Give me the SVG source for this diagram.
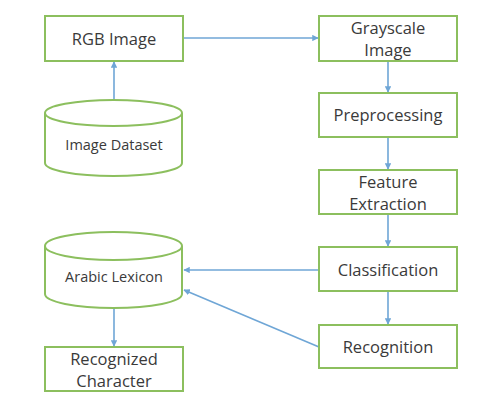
<svg xmlns="http://www.w3.org/2000/svg" width="485" height="398" viewBox="0 0 485 398">
<defs>
<style>
.box{fill:#fff;stroke:#8cbf5e;stroke-width:2}
.t{font-family:"Open Sans","Liberation Sans",sans-serif;fill:#3a3a3a;text-anchor:middle}
.big{font-size:16.5px}
.sm{font-size:14.5px}
.c{stroke:#6fa6d6;stroke-width:1.6;fill:none;marker-end:url(#ah)}
</style>
<marker id="ah" viewBox="0 0 10 10" refX="9" refY="5" markerWidth="4" markerHeight="4" orient="auto"><path d="M0,0 L10,5 L0,10 z" fill="#6fa6d6"/></marker>
</defs>
<rect width="485" height="398" fill="#fff"/>
<g id="connectors">
<line class="c" x1="183" y1="38" x2="318" y2="38"/>
<line class="c" x1="114" y1="99" x2="114" y2="62"/>
<line class="c" x1="388" y1="61" x2="388" y2="92"/>
<line class="c" x1="388" y1="137" x2="388" y2="169"/>
<line class="c" x1="388" y1="214" x2="388" y2="246"/>
<line class="c" x1="388" y1="291" x2="388" y2="324"/>
<line class="c" x1="319" y1="270" x2="184" y2="270"/>
<line class="c" x1="319" y1="347" x2="184" y2="290"/>
<line class="c" x1="114" y1="308" x2="114" y2="346"/>
</g>
<g id="rgb"><rect class="box" x="45" y="16" width="138" height="45"/><text class="t big" x="114" y="45">RGB Image</text></g>
<g id="gray"><rect class="box" x="319" y="16" width="138" height="45"/><text class="t big" x="388" y="34">Grayscale</text><text class="t big" x="388" y="56">Image</text></g>
<g id="dataset"><path class="box" d="M45,113 A68.5,13 0 0 1 182,113 L182,163 A68.5,13 0 0 1 45,163 Z"/><path class="box" d="M45,113 A68.5,13 0 0 0 182,113" fill="none"/><text class="t sm" x="114" y="150">Image Dataset</text></g>
<g id="prep"><rect class="box" x="319" y="93" width="138" height="44"/><text class="t big" x="388" y="121">Preprocessing</text></g>
<g id="feat"><rect class="box" x="319" y="170" width="138" height="44"/><text class="t big" x="388" y="188">Feature</text><text class="t big" x="388" y="210">Extraction</text></g>
<g id="class"><rect class="box" x="319" y="247" width="138" height="44"/><text class="t big" x="388" y="276">Classification</text></g>
<g id="recog"><rect class="box" x="319" y="325" width="138" height="43"/><text class="t big" x="388" y="353">Recognition</text></g>
<g id="lexicon"><path class="box" d="M45,246 A68.5,14 0 0 1 182,246 L182,294 A68.5,14 0 0 1 45,294 Z"/><path class="box" d="M45,246 A68.5,14 0 0 0 182,246" fill="none"/><text class="t sm" x="114" y="282">Arabic Lexicon</text></g>
<g id="char"><rect class="box" x="45" y="347" width="138" height="44"/><text class="t big" x="114" y="365">Recognized</text><text class="t big" x="114" y="387">Character</text></g>
</svg>
